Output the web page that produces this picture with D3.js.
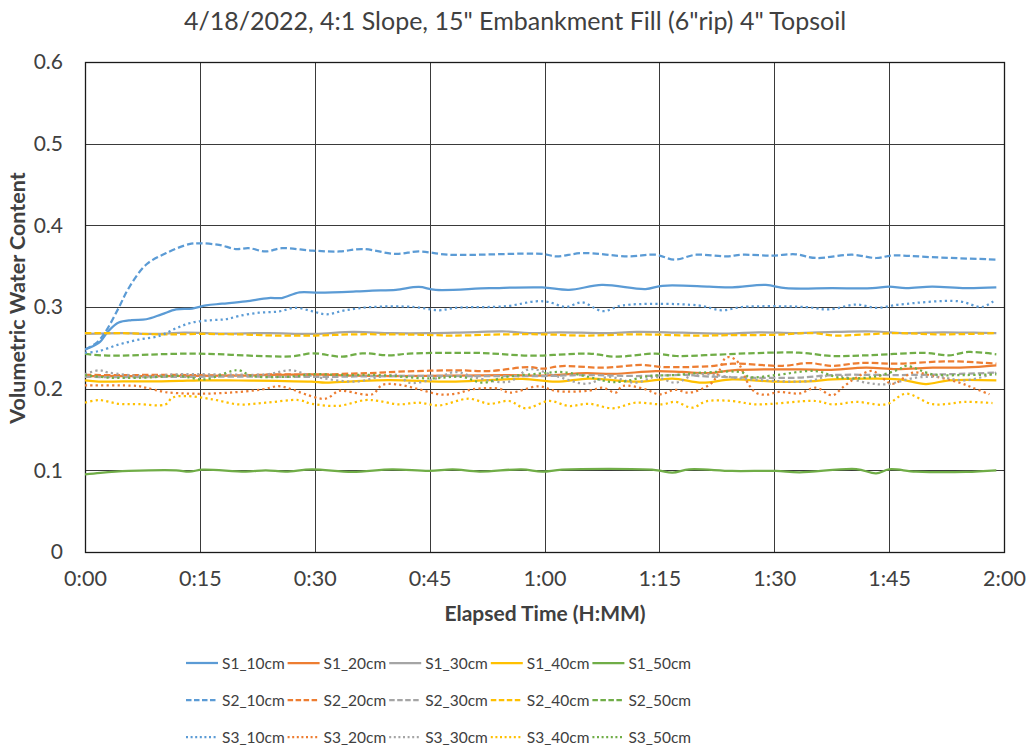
<!DOCTYPE html>
<html>
<head>
<meta charset="utf-8">
<script src="https://cdn.jsdelivr.net/npm/d3@7"></script>
<style>
  html, body { margin: 0; padding: 0; background: #fff; }
  svg { display: block; }
  text { font-family: Lato, Carlito, Calibri, "Open Sans", sans-serif; fill: #404040; }
</style>
</head>
<body>
<svg id="chart" width="1026" height="749"></svg>
<script>
// Volumetric water content readings: [elapsed minutes, VWC]
const S1_10cm = [[0,0.248],[1.8,0.256],[3.1,0.271],[4.4,0.281],[6.1,0.284],[8,0.285],[10,0.291],[11.9,0.297],[14,0.298],[15.8,0.302],[17.9,0.304],[21,0.307],[24,0.311],[25.7,0.311],[28,0.318],[30.6,0.3175],[35.4,0.319],[37.5,0.320],[40.6,0.321],[43.6,0.3245],[45.8,0.321],[52.8,0.323],[59.7,0.324],[63.2,0.321],[67.5,0.327],[73.2,0.322],[75.4,0.326],[81.5,0.325],[84.5,0.324],[88.9,0.327],[91.5,0.323],[97.6,0.323],[102.8,0.323],[105,0.325],[107.2,0.323],[110.6,0.325],[115,0.323],[119,0.324]];
const S1_20cm = [[0,0.2155],[10,0.2155],[20,0.216],[29.6,0.2176],[35,0.216],[40,0.2155],[48,0.216],[55,0.2165],[60,0.216],[65.4,0.219],[69,0.218],[74.5,0.2216],[78,0.2205],[81.5,0.219],[84.5,0.2224],[93.3,0.2237],[97,0.223],[102,0.2257],[106,0.224],[110.7,0.2257],[115,0.226],[119,0.2286]];
const S1_30cm = [[0,0.267],[5,0.268],[9,0.267],[13,0.2685],[18,0.2675],[24,0.268],[30,0.267],[35,0.2695],[40,0.268],[45,0.268],[50,0.269],[55,0.270],[58,0.268],[62,0.269],[68,0.268],[72,0.2695],[78,0.2685],[84,0.2675],[88,0.269],[93,0.268],[98,0.2695],[103,0.270],[107,0.268],[112,0.269],[116,0.2685],[119,0.268]];
const S1_40cm = [[0,0.2102],[1.8,0.2086],[5,0.209],[10,0.209],[12.3,0.2094],[15,0.2102],[20,0.21],[25,0.2095],[29.6,0.2086],[31.4,0.2073],[35,0.209],[39.7,0.2106],[48.4,0.2086],[57.1,0.212],[61.5,0.2086],[65.8,0.2124],[70.2,0.2094],[72.8,0.2086],[76.7,0.2124],[80.6,0.2073],[84.5,0.2114],[90.2,0.2086],[94.6,0.209],[97.6,0.2114],[102,0.2122],[106.3,0.2114],[109.8,0.2057],[112.8,0.2102],[119,0.2102]];
const S1_50cm = [[0,0.0951],[2,0.097],[5.7,0.0992],[11.9,0.1],[13.6,0.0984],[15.4,0.1008],[21,0.0984],[23.6,0.1],[26.2,0.0984],[29.6,0.1012],[34.9,0.098],[40.1,0.1012],[45,0.0992],[48,0.1012],[51.5,0.0984],[57,0.1012],[59.7,0.0984],[62.3,0.1008],[74.5,0.1004],[76.7,0.0971],[78.9,0.1012],[84.5,0.0992],[90.2,0.0992],[93.3,0.0976],[100.7,0.1016],[103.3,0.0963],[105,0.1012],[108.5,0.0984],[115,0.098],[119,0.1]];

const S2_10cm = [[0,0.248],[1.5,0.256],[2.7,0.27],[4.4,0.299],[5.7,0.323],[8,0.352],[10.6,0.366],[13.6,0.377],[15,0.378],[17.5,0.376],[19.7,0.371],[21.4,0.372],[23.6,0.368],[25.7,0.372],[29.7,0.369],[33.2,0.368],[36.2,0.371],[40.6,0.365],[43.6,0.368],[47.5,0.364],[59.7,0.365],[61.5,0.362],[65,0.366],[71,0.362],[74.5,0.364],[77,0.358],[79.8,0.364],[83.7,0.362],[85.8,0.364],[89.7,0.363],[92.8,0.3645],[95.4,0.360],[100.2,0.364],[103.3,0.360],[105.4,0.363],[110.6,0.361],[119,0.358]];
const S2_20cm = [[0,0.217],[5,0.2165],[10,0.217],[15,0.2165],[20,0.216],[25,0.2175],[30,0.217],[35,0.2185],[38.4,0.2196],[40.9,0.2208],[48.4,0.2225],[52.8,0.2216],[58,0.2265],[59.7,0.2245],[62.3,0.2277],[67.6,0.2257],[72.8,0.229],[75.4,0.2265],[81.5,0.2275],[84.5,0.2306],[91.1,0.228],[94.6,0.2314],[97.6,0.2278],[101.1,0.2314],[106.3,0.2306],[112.8,0.2335],[119,0.2306]];
const S2_30cm = [[0,0.2143],[10,0.2143],[20,0.2148],[30,0.2143],[40,0.2155],[50,0.2155],[60,0.2155],[65.8,0.2167],[72,0.2155],[79,0.2167],[80.2,0.2155],[86.7,0.2135],[93.3,0.2135],[97.6,0.2167],[106.3,0.2167],[112,0.2175],[119,0.2196]];
const S2_40cm = [[0,0.268],[5,0.268],[10,0.2665],[15,0.267],[20,0.2665],[25,0.265],[30,0.265],[35,0.2665],[40,0.2665],[44,0.266],[48,0.265],[55,0.2665],[60,0.2665],[65,0.265],[72,0.2665],[80,0.265],[84,0.2655],[90,0.266],[95,0.268],[98,0.265],[102,0.2665],[106,0.268],[112,0.2665],[119,0.268]];
const S2_50cm = [[0,0.2425],[3,0.2405],[14,0.2429],[27,0.2396],[29.7,0.2433],[33.6,0.2392],[36.2,0.2433],[39.7,0.2408],[42.3,0.2429],[51.5,0.2437],[58.4,0.2404],[65.8,0.2429],[69.3,0.2392],[74.5,0.2429],[77.2,0.240],[81.5,0.2412],[86.7,0.2433],[93.2,0.2441],[97.6,0.240],[102,0.2408],[109.8,0.2437],[112.8,0.2408],[115.4,0.2449],[119,0.2421]];

const S3_10cm = [[0,0.244],[1.8,0.246],[4.4,0.254],[7,0.260],[9.7,0.2645],[11.9,0.274],[14,0.281],[16.6,0.284],[18.4,0.285],[20.1,0.289],[22.7,0.293],[25.3,0.2945],[27.5,0.299],[29.6,0.295],[31.5,0.291],[34,0.296],[37.5,0.300],[43,0.300],[46.2,0.296],[48.4,0.299],[55,0.301],[58.9,0.307],[60.6,0.306],[62.8,0.300],[64.9,0.3057],[67.6,0.295],[70.2,0.302],[80,0.302],[83.2,0.296],[85.8,0.300],[94.1,0.300],[97.1,0.297],[100.7,0.303],[103.3,0.299],[106.3,0.303],[114.1,0.307],[117.1,0.300],[118.6,0.307]];
const S3_20cm = [[0,0.204],[6.8,0.2033],[7.9,0.2013],[10.5,0.1959],[14.4,0.1938],[18.8,0.1951],[23.1,0.199],[25.3,0.203],[27,0.1992],[28.8,0.1931],[31.4,0.1877],[33.1,0.1971],[34,0.1971],[37.5,0.1931],[38.8,0.2045],[40.9,0.205],[43.6,0.1992],[46.2,0.1931],[48.4,0.1938],[50.6,0.1992],[54.1,0.2],[55.4,0.1951],[59.3,0.2029],[61.5,0.1971],[65.8,0.1975],[67.6,0.2012],[69.3,0.1951],[70.2,0.2033],[73.2,0.1992],[75,0.1931],[77.1,0.1985],[78.9,0.1951],[81.5,0.2045],[82.5,0.215],[83.7,0.238],[85,0.235],[86.7,0.2045],[87.6,0.1951],[88.9,0.1925],[90.6,0.196],[93.3,0.1941],[95.4,0.2012],[97.6,0.1918],[98.9,0.2012],[100.7,0.2135],[102.8,0.2216],[105.4,0.206],[108.1,0.2196],[110.7,0.2155],[114.2,0.2073],[115.9,0.2012],[118.1,0.1931]];
const S3_30cm = [[0,0.2176],[1.8,0.2225],[3.1,0.2196],[7.9,0.2155],[12,0.2176],[17,0.2176],[23.6,0.2176],[27,0.2225],[29.6,0.2155],[35.3,0.2086],[38.4,0.2143],[40.9,0.2167],[42.3,0.2073],[45.4,0.2114],[48.4,0.2204],[51,0.2135],[55.4,0.2086],[58,0.2237],[61.5,0.2155],[65.4,0.206],[68.4,0.2143],[71.9,0.2073],[74.5,0.2143],[77.1,0.2073],[79.8,0.2176],[86.7,0.2114],[94.6,0.2094],[97.6,0.2167],[102,0.2073],[104.6,0.2053],[108.5,0.2135],[111.5,0.2143],[115,0.2102],[119,0.2196]];
const S3_40cm = [[0,0.1828],[1.8,0.186],[4.4,0.1815],[7,0.181],[10.5,0.1807],[11.4,0.1889],[13.1,0.191],[16.6,0.187],[20.1,0.1807],[23.6,0.1828],[27.9,0.186],[29.6,0.1815],[33.1,0.179],[36.6,0.186],[38.4,0.1849],[40.9,0.1808],[43.6,0.1828],[46.2,0.1795],[50.1,0.1877],[52.8,0.1815],[55.4,0.1849],[57.5,0.176],[60.6,0.1849],[63.2,0.1788],[65.8,0.1815],[68.9,0.176],[71.9,0.1828],[75.4,0.1808],[77.1,0.1838],[79.3,0.1767],[81.1,0.1845],[84.5,0.1849],[87.6,0.1808],[95.4,0.1849],[97.6,0.1808],[100.7,0.1838],[104.6,0.1808],[107.2,0.1938],[110.7,0.181],[115,0.1838],[118.5,0.1824]];
const S3_50cm = [[0,0.2167],[3.1,0.2135],[7.9,0.2135],[12.3,0.2155],[15.7,0.2114],[19.2,0.2216],[20.1,0.2225],[21.8,0.2155],[25.3,0.2143],[27.9,0.2155],[29.6,0.2176],[34,0.2167],[38.4,0.2167],[44.9,0.2125],[49.3,0.2143],[51.9,0.2073],[54.9,0.2143],[59.3,0.2184],[62.3,0.2204],[65.8,0.2143],[68.4,0.2086],[70.2,0.2086],[73.7,0.2155],[77.1,0.2167],[80.6,0.2196],[85.9,0.2196],[86.7,0.2143],[90.2,0.2167],[95.4,0.2216],[98.5,0.2135],[102.8,0.2143],[106.3,0.2237],[107.2,0.2278],[110.7,0.2176],[115,0.2167],[119,0.2176]];

const seriesNames = ["S1_10cm","S1_20cm","S1_30cm","S1_40cm","S1_50cm",
                     "S2_10cm","S2_20cm","S2_30cm","S2_40cm","S2_50cm",
                     "S3_10cm","S3_20cm","S3_30cm","S3_40cm","S3_50cm"];
const seriesValues = [S1_10cm,S1_20cm,S1_30cm,S1_40cm,S1_50cm,
                      S2_10cm,S2_20cm,S2_30cm,S2_40cm,S2_50cm,
                      S3_10cm,S3_20cm,S3_30cm,S3_40cm,S3_50cm];

const xTicks = [0,15,30,45,60,75,90,105,120];   // minutes
const yTicks = [0,0.1,0.2,0.3,0.4,0.5,0.6];

const titleText = "4/18/2022, 4:1 Slope, 15\" Embankment Fill (6\"rip) 4\" Topsoil";
const xTitle = "Elapsed Time (H:MM)";
const yTitle = "Volumetric Water Content";

// Depth colours and sensor-station line styles
const depthColors = ["#5B9BD5","#ED7D31","#A5A5A5","#FFC000","#70AD47"];
const stationDash = ["none","6.5,3", "2.2,3.2"];
const legendDash  = ["none","5.5,2.5","2,2.6"];

const FONT = 'Lato, Carlito, Calibri, "Open Sans", sans-serif';

const svg = d3.select("#chart");
const plot = {left: 85, right: 1004, top: 62, bottom: 552};

const x = d3.scaleLinear().domain([0,120]).range([plot.left, plot.right]);
const y = d3.scaleLinear().domain([0,0.6]).range([plot.bottom, plot.top]);

const fmtTime = m => `${Math.floor(m/60)}:${String(m%60).padStart(2,"0")}`;

// Title
svg.append("text")
  .attr("x", 515).attr("y", 30)
  .attr("text-anchor","middle")
  .style("font-size","25px")
  .text(titleText);

// Gridlines
const grid = svg.append("g");
grid.selectAll("line.h").data(yTicks).join("line")
  .attr("x1", plot.left).attr("x2", plot.right)
  .attr("y1", d => Math.round(y(d)) + 0.5).attr("y2", d => Math.round(y(d)) + 0.5)
  .attr("stroke","#3a3a3a").attr("stroke-width",1);
grid.selectAll("line.v").data(xTicks).join("line")
  .attr("y1", plot.top).attr("y2", plot.bottom)
  .attr("x1", d => Math.round(x(d)) + 0.5).attr("x2", d => Math.round(x(d)) + 0.5)
  .attr("stroke","#3a3a3a").attr("stroke-width",1);

// Axes (labels only; frame drawn separately)
const yAxis = d3.axisLeft(y).tickValues(yTicks).tickSize(0).tickPadding(22)
  .tickFormat(d => d === 0 ? "0" : d3.format(".1f")(d));
const gy = svg.append("g").attr("transform",`translate(${plot.left},0)`).call(yAxis);
gy.select(".domain").remove();
gy.selectAll("text").style("font-size","21px").style("font-family",FONT).attr("fill","#404040");

const xAxis = d3.axisBottom(x).tickValues(xTicks).tickSize(0).tickPadding(19).tickFormat(fmtTime);
const gx = svg.append("g").attr("transform",`translate(0,${plot.bottom})`).call(xAxis);
gx.select(".domain").remove();
gx.selectAll("text").style("font-size","21.5px").style("font-family",FONT).attr("fill","#404040");

// Plot frame
svg.append("rect")
  .attr("x", plot.left + 0.5).attr("y", plot.top + 0.5)
  .attr("width", plot.right - plot.left).attr("height", plot.bottom - plot.top)
  .attr("fill","none").attr("stroke","#1a1a1a").attr("stroke-width",1.3);

// Axis titles
svg.append("text")
  .attr("x", 545).attr("y", 621)
  .attr("text-anchor","middle")
  .style("font-size","21px").style("font-weight","bold")
  .text(xTitle);
svg.append("text")
  .attr("transform","translate(25,298) rotate(-90)")
  .attr("text-anchor","middle")
  .style("font-size","21.5px").style("font-weight","bold")
  .text(yTitle);

// Series lines
const line = d3.line()
  .x(d => x(d[0])).y(d => y(d[1]))
  .curve(d3.curveCatmullRom.alpha(0.5));

svg.append("clipPath").attr("id","plotclip").append("rect")
  .attr("x", plot.left).attr("y", plot.top)
  .attr("width", plot.right - plot.left).attr("height", plot.bottom - plot.top);

const lines = svg.append("g").attr("clip-path","url(#plotclip)");
seriesValues.forEach((vals, i) => {
  const station = Math.floor(i / 5), depth = i % 5;
  lines.append("path")
    .datum(vals)
    .attr("d", line)
    .attr("fill","none")
    .attr("stroke", depthColors[depth])
    .attr("stroke-width", 2.25)
    .attr("stroke-linejoin","round")
    .attr("stroke-dasharray", stationDash[station]);
});

// Legend: 3 rows x 5 columns
const legend = svg.append("g");
seriesNames.forEach((name, i) => {
  const station = Math.floor(i / 5), depth = i % 5;
  const lx = 186 + depth * 101.6;
  const ly = 663 + station * 37;
  legend.append("line")
    .attr("x1", lx).attr("x2", lx + 32)
    .attr("y1", ly).attr("y2", ly)
    .attr("stroke", depthColors[depth]).attr("stroke-width", 2.25)
    .attr("stroke-dasharray", legendDash[station]);
  legend.append("text")
    .attr("x", lx + 36).attr("y", ly)
    .attr("dy","0.36em")
    .style("font-size","15.5px")
    .text(name);
});
</script>
</body>
</html>
